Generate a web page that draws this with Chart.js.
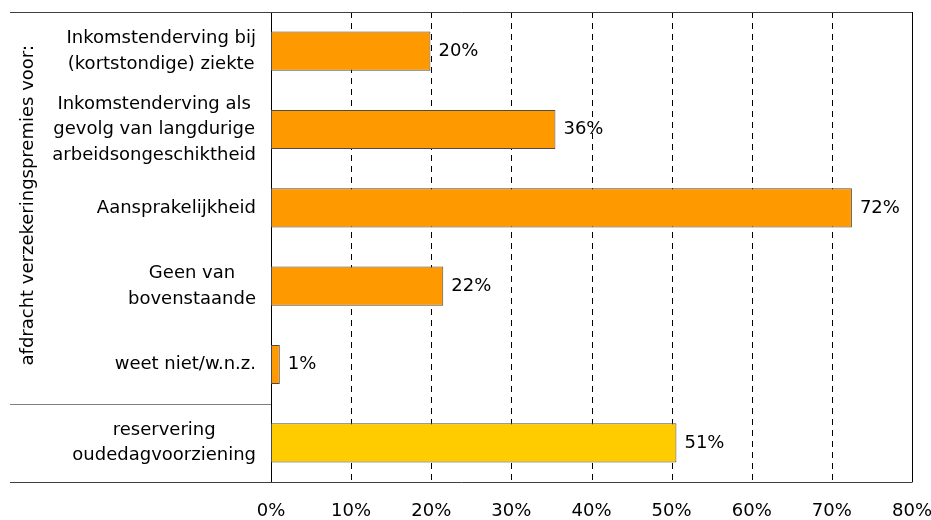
<!DOCTYPE html>
<html>
<head>
<meta charset="utf-8">
<script src="https://cdn.jsdelivr.net/npm/chart.js@4/dist/chart.umd.min.js"></script>
<style>
  html, body { margin: 0; padding: 0; background: #fff; }
  #wrap { width: 931px; height: 520px; position: relative; }
</style>
</head>
<body>
<div id="wrap"><canvas id="c" width="931" height="520"></canvas></div>
<script>
const categories = [
  ["Inkomstenderving bij", "(kortstondige) ziekte"],
  ["Inkomstenderving als", "gevolg van langdurige", "arbeidsongeschiktheid"],
  ["Aansprakelijkheid"],
  ["Geen van", "bovenstaande"],
  ["weet niet/w.n.z."],
  ["reservering", "oudedagvoorziening"]
];
const values = [19.9, 35.5, 72.5, 21.5, 1.1, 50.6];
const valueLabels = ["20%", "36%", "72%", "22%", "1%", "51%"];
const barColors = ["#FF9900", "#FF9900", "#FF9900", "#FF9900", "#FF9900", "#FFCC00"];
const xTickValues = [0, 10, 20, 30, 40, 50, 60, 70, 80];
const axisTitle = "afdracht verzekeringspremies voor:";

const FONT = "18px 'DejaVu Sans', Verdana, sans-serif";
Chart.defaults.font.family = "'DejaVu Sans', Verdana, sans-serif";
Chart.defaults.font.size = 18;
Chart.defaults.color = "#000";

const decor = {
  id: "decor",
  beforeDatasetsDraw(chart) {
    const ctx = chart.ctx;
    const x = chart.scales.x;
    const top = chart.chartArea.top, bottom = chart.chartArea.bottom;
    ctx.save();
    ctx.strokeStyle = "#000";
    ctx.lineWidth = 1;
    ctx.setLineDash([6, 5]);
    xTickValues.forEach(v => {
      if (v === 0 || v === 80) return;
      const px = Math.round(x.getPixelForValue(v)) + 0.5;
      ctx.beginPath(); ctx.moveTo(px, top); ctx.lineTo(px, bottom); ctx.stroke();
    });
    ctx.restore();
  },
  afterDatasetsDraw(chart) {
    const ctx = chart.ctx;
    const x = chart.scales.x, y = chart.scales.y;
    const top = chart.chartArea.top, bottom = chart.chartArea.bottom;
    const leftEdge = 10;
    ctx.save();
    ctx.strokeStyle = "#404040";
    ctx.lineWidth = 1;
    const rx = Math.round(x.getPixelForValue(80)) + 0.5;
    ctx.beginPath(); ctx.moveTo(leftEdge, top + 0.5); ctx.lineTo(rx, top + 0.5); ctx.stroke();
    ctx.beginPath(); ctx.moveTo(leftEdge, bottom + 0.5); ctx.lineTo(rx, bottom + 0.5); ctx.stroke();
    ctx.strokeStyle = "#000";
    ctx.beginPath(); ctx.moveTo(rx, top); ctx.lineTo(rx, bottom); ctx.stroke();
    const sepY = Math.round((y.getPixelForValue(4) + y.getPixelForValue(5)) / 2) + 0.5;
    ctx.strokeStyle = "#808080";
    ctx.beginPath(); ctx.moveTo(leftEdge, sepY); ctx.lineTo(x.left, sepY); ctx.stroke();

    ctx.fillStyle = "#000";
    ctx.font = FONT;
    ctx.textBaseline = "middle";
    // category labels: block right-aligned, lines centred within block
    const blockRight = x.left - 15;
    const lineH = 25.5;
    categories.forEach((lines, i) => {
      const cyi = y.getPixelForValue(i);
      const w = Math.max(...lines.map(l => ctx.measureText(l).width));
      const cx = blockRight - w / 2;
      ctx.textAlign = "center";
      lines.forEach((l, j) => {
        ctx.fillText(l, cx, cyi + (j - (lines.length - 1) / 2) * lineH);
      });
    });
    // value labels
    ctx.textAlign = "left";
    const meta = chart.getDatasetMeta(0);
    meta.data.forEach((bar, i) => {
      ctx.fillText(valueLabels[i], bar.x + 8, bar.y);
    });
    // rotated group title
    const cy = (top + sepY) / 2 - 3;
    ctx.translate(28, cy);
    ctx.rotate(-Math.PI / 2);
    ctx.textAlign = "center";
    ctx.fillText(axisTitle, 0, 0);
    ctx.restore();
  }
};

new Chart(document.getElementById("c"), {
  type: "bar",
  data: {
    labels: categories,
    datasets: [{
      data: values,
      backgroundColor: barColors,
      borderColor: "#4d4d4d",
      borderWidth: 1,
      borderSkipped: false,
      barPercentage: 0.5,
      categoryPercentage: 1.0
    }]
  },
  options: {
    indexAxis: "y",
    responsive: false,
    animation: false,
    layout: { padding: { top: 12, right: 19, left: 10, bottom: 0 } },
    plugins: { legend: { display: false }, tooltip: { enabled: false } },
    scales: {
      x: {
        min: 0, max: 80,
        afterBuildTicks(scale) { scale.ticks = xTickValues.map(v => ({ value: v })); },
        afterFit(scale) {
          scale.height = 38;
          scale.paddingLeft = 0; scale.paddingRight = 0;
          scale.paddingTop = 0; scale.paddingBottom = 0;
        },
        grid: { display: false, drawTicks: false },
        border: { display: false },
        ticks: {
          padding: 19, maxRotation: 0, autoSkip: false,
          callback: v => v + "%"
        }
      },
      y: {
        afterFit(scale) {
          scale.width = 261;
          scale.paddingTop = 0; scale.paddingBottom = 0;
          scale.paddingLeft = 0; scale.paddingRight = 0;
        },
        grid: { display: false, drawTicks: false },
        border: { display: true, color: "#000", width: 1 },
        ticks: { display: false }
      }
    }
  },
  plugins: [decor]
});
</script>
</body>
</html>
